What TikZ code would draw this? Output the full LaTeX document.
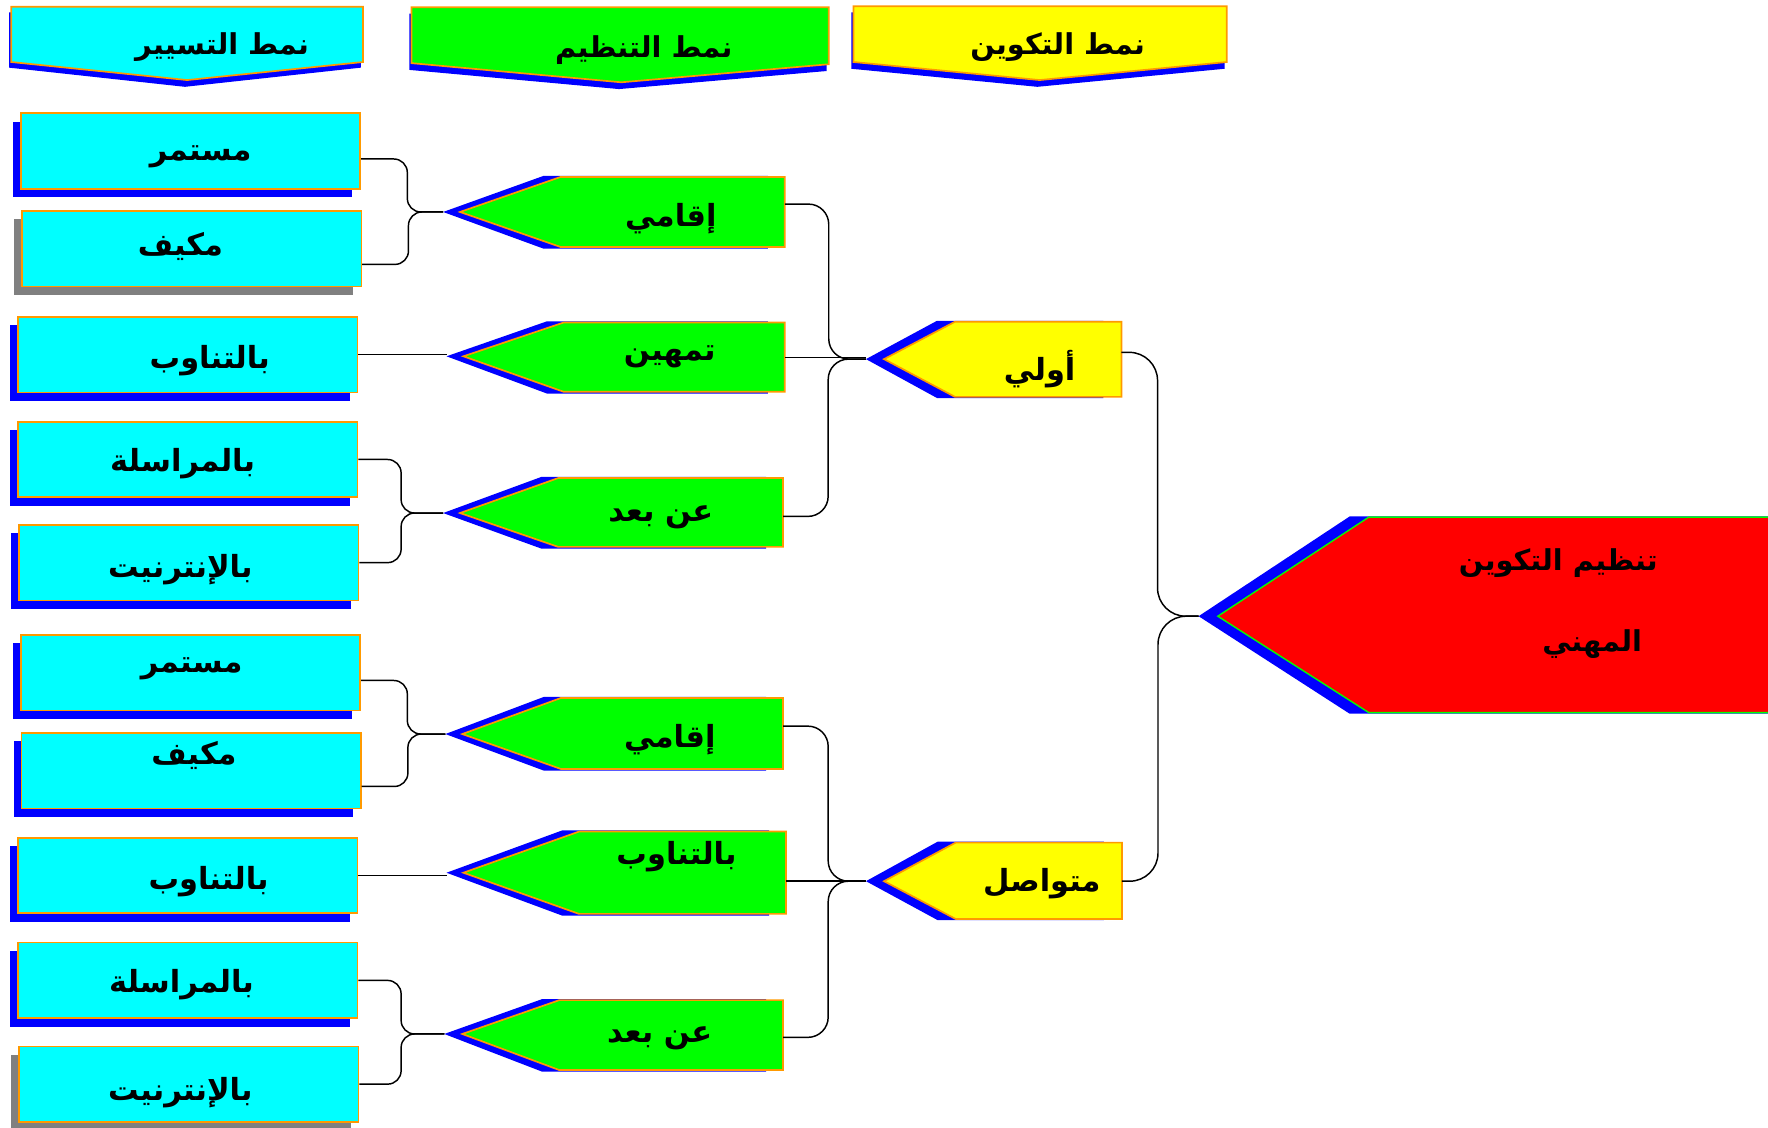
\documentclass[tikz,border=0pt]{standalone}
\usepackage{fontspec}
\usepackage{tikz}
\usetikzlibrary{shadows}
\newfontfamily\arabicfont[Script=Arabic]{DejaVu Sans}
\TeXXeTstate=1
\newcommand{\rtl}[1]{\beginR #1\endR}
\definecolor{cyanfill}{RGB}{0,255,255}
\definecolor{greenfill}{RGB}{0,255,0}
\definecolor{yellowfill}{RGB}{255,255,0}
\definecolor{redfill}{RGB}{255,0,0}
\definecolor{edge}{RGB}{255,153,0}
\definecolor{shade}{RGB}{0,0,255}
\definecolor{greyshade}{RGB}{128,128,128}
\tikzset{%
	cbox/.style = {name = #1, rectangle, draw = edge, fill = cyanfill, line width = 1.5pt, minimum width = 301pt, minimum height = 67pt, inner sep = 0pt},
	bshade/.style = {drop shadow = {shadow xshift = -7pt, shadow yshift = -7.5pt, fill = shade, opacity = 1}},
	gshade/.style = {drop shadow = {shadow xshift = -7pt, shadow yshift = -7.5pt, fill = greyshade, opacity = 1}},
	word/.style = {name = #1, font = \arabicfont\bfseries\fontsize{27}{31}\selectfont, inner sep = 0pt},
	head/.style = {word = #1, font = \arabicfont\bfseries\fontsize{25.5}{30}\selectfont},
	sign/.style = {draw = edge, line width = 1.5pt},
	back/.style = {fill = shade},
	link/.style = {draw, line width = 1.3pt, rounded corners = 12pt}
}
\begin{document}
\begin{tikzpicture}[x=1pt, y=-1pt]
\useasboundingbox (0,0) rectangle (1568,1000);
% headers
\fill [back] (8,11) -- (320,11) -- (320,60) -- (164,77) -- (8,60) -- cycle;
\draw [sign, fill = cyanfill] (10,6) -- (322,6) -- (322,55) -- (166,71) -- (10,55) -- cycle;
\fill [back] (363,12) -- (733,12) -- (733,63) -- (549,79) -- (363,62) -- cycle;
\draw [sign, fill = greenfill] (365,6.5) -- (735,6.5) -- (735,57) -- (551,73) -- (365,56) -- cycle;
\fill [back] (755,11) -- (1086,11) -- (1086,61) -- (920,77) -- (755,61) -- cycle;
\draw [sign, fill = yellowfill] (757,5.5) -- (1088,5.5) -- (1088,55) -- (922,71) -- (757,55) -- cycle;
\node [head = {tasyir}] at (197,42) {\rtl{نمط التسيير}};
\node [head = {tanzimh}] at (571,44) {\rtl{نمط  التنظيم}};
\node [head = {takwinh}] at (938,42) {\rtl{نمط التكوين}};
% left column
\node [cbox = {mustamir1}, bshade] at (169,134) {};
\node [cbox = {makif1}, gshade] at (170,220.5) {};
\node [cbox = {bitanawub1}, bshade] at (166.5,314.5) {};
\node [cbox = {murasala1}, bshade] at (166.5,407.5) {};
\node [cbox = {internet1}, bshade] at (167.5,499) {};
\node [cbox = {mustamir2}, bshade] at (169,596.5) {};
\node [cbox = {makif2}, bshade] at (169.5,683.5) {};
\node [cbox = {bitanawub2}, bshade] at (166.5,776.5) {};
\node [cbox = {murasala2}, bshade] at (166.5,869.5) {};
\node [cbox = {internet2}, gshade] at (167.5,961.5) {};
\node [word = {mustamir1t}] at (178,139) {\rtl{مستمر}};
\node [word = {makif1t}] at (160,219) {\rtl{مكيف}};
\node [word = {bitanawub1t}] at (186,320) {\rtl{بالتناوب}};
\node [word = {murasala1t}] at (162,411) {\rtl{بالمراسلة}};
\node [word = {internet1t}] at (160,505) {\rtl{بالإنترنيت}};
\node [word = {mustamir2t}] at (170,593) {\rtl{مستمر}};
\node [word = {makif2t}] at (172,670) {\rtl{مكيف}};
\node [word = {bitanawub2t}] at (185,782) {\rtl{بالتناوب}};
\node [word = {murasala2t}] at (161,873) {\rtl{بالمراسلة}};
\node [word = {internet2t}] at (160,969) {\rtl{بالإنترنيت}};
% green signs
\fill [back] (393,188) -- (482,156) -- (681,156) -- (681,220.5) -- (482,220.5) -- cycle;
\draw [sign, fill = greenfill] (408,188) -- (497,157) -- (696,157) -- (696,219) -- (497,219) -- cycle;
\fill [back] (396,316) -- (485,285) -- (681,285) -- (681,349) -- (485,349) -- cycle;
\draw [sign, fill = greenfill] (411,316) -- (500,286) -- (696,286) -- (696,347.5) -- (500,347.5) -- cycle;
\fill [back] (393,455) -- (480,423) -- (679.5,423) -- (679.5,486.5) -- (480,486.5) -- cycle;
\draw [sign, fill = greenfill] (408,455) -- (495,424) -- (694.5,424) -- (694.5,485) -- (495,485) -- cycle;
\fill [back] (395,651) -- (482.5,618) -- (679.5,618) -- (679.5,683.5) -- (482.5,683.5) -- cycle;
\draw [sign, fill = greenfill] (410,651) -- (497.5,619) -- (694.5,619) -- (694.5,682) -- (497.5,682) -- cycle;
\fill [back] (396,774) -- (498.5,736.5) -- (682,736.5) -- (682,812) -- (498.5,812) -- cycle;
\draw [sign, fill = greenfill] (411,774) -- (513.5,737.5) -- (697,737.5) -- (697,810.5) -- (513.5,810.5) -- cycle;
\fill [back] (394,917) -- (481,886) -- (679.5,886) -- (679.5,950.5) -- (481,950.5) -- cycle;
\draw [sign, fill = greenfill] (410,917) -- (496,887) -- (694.5,887) -- (694.5,949) -- (496,949) -- cycle;
\coordinate (iqama1) at (393,188);
\coordinate (iqama1-r) at (696,188);
\coordinate (tamhin) at (396,316);
\coordinate (tamhin-r) at (696,317);
\coordinate (anbuad1) at (393,455);
\coordinate (anbuad1-r) at (694.5,455);
\coordinate (iqama2) at (395,651);
\coordinate (iqama2-r) at (694.5,651);
\coordinate (bitanawub2g) at (396,774);
\coordinate (bitanawub2g-r) at (697,774);
\coordinate (anbuad2) at (394,917);
\coordinate (anbuad2-r) at (694.5,917);
\node [word = {iqama1t}] at (595,194) {\rtl{إقامي}};
\node [word = {tamhint}] at (594,316) {\rtl{تمهين}};
\node [word = {anbuad1t}] at (586,459) {\rtl{عن بعد}};
\node [word = {iqama2t}] at (594,656) {\rtl{إقامي}};
\node [word = {bitanawub2gt}] at (600,760) {\rtl{بالتناوب}};
\node [word = {anbuad2t}] at (585,921) {\rtl{عن بعد}};
% yellow signs
\fill [back] (768,318.5) -- (831,284.5) -- (978.6,284.5) -- (978.6,353) -- (831,353) -- cycle;
\draw [sign, fill = yellowfill] (784,318.5) -- (847,285.3) -- (994.6,285.3) -- (994.6,352) -- (847,352) -- cycle;
\fill [back] (768,781.5) -- (831.5,746.5) -- (979,746.5) -- (979,816) -- (831.5,816) -- cycle;
\draw [sign, fill = yellowfill] (784,781.5) -- (847.5,747.3) -- (995,747.3) -- (995,815) -- (847.5,815) -- cycle;
\coordinate (awwali) at (768,318.5);
\coordinate (awwali-r) at (994.6,318.5);
\coordinate (mutawasil) at (768,781.5);
\coordinate (mutawasil-r) at (995,781.5);
\node [word = {awwalit}] at (922,327) {\rtl{أولي}};
\node [word = {mutawasilt}] at (924,784) {\rtl{متواصل}};
% red sign
\fill [back] (1063,546.5) -- (1197,458) -- (1580,458) -- (1580,633) -- (1197,633) -- cycle;
\draw [draw = greenfill, line width = 1.2pt, fill = redfill] (1080,546.5) -- (1214,458.6) -- (1580,458.6) -- (1580,632) -- (1214,632) -- cycle;
\coordinate (tanzim) at (1063,546.5);
\node [head = {tanzimt}] at (1382,499) {\rtl{تنظيم التكوين}};
\node [head = {mihnit}] at (1412,571) {\rtl{المهني}};
% connectors
\draw [link] ([yshift=-7pt]mustamir1.east) -- ++(41,0) |- (iqama1);
\draw [link] ([yshift=-14pt]makif1.east) -- ++(41,0) |- (iqama1);
\draw [link] (bitanawub1.east) -- (bitanawub1.east -| tamhin);
\draw [link] (murasala1.east) -- ++(38,0) |- (anbuad1);
\draw [link] (internet1.east) -- ++(37,0) |- (anbuad1);
\draw [link] ([yshift=-7pt]mustamir2.east) -- ++(41,0) |- (iqama2);
\draw [link] ([yshift=-14pt]makif2.east) -- ++(41,0) |- (iqama2);
\draw [link] (bitanawub2.east) -- (bitanawub2.east -| bitanawub2g);
\draw [link] (murasala2.east) -- ++(38,0) |- (anbuad2);
\draw [link] (internet2.east) -- ++(37,0) |- (anbuad2);
\draw [link, rounded corners = 18pt] ([yshift=7pt]iqama1-r) -- ++(39,0) |- (awwali);
\draw [link] (tamhin-r) -- (tamhin-r -| awwali);
\draw [link, rounded corners = 18pt] ([yshift=-3pt]anbuad1-r) -- ++(40,0) |- (awwali);
\draw [link, rounded corners = 18pt] ([yshift=7pt]iqama2-r) -- ++(40,0) |- (mutawasil);
\draw [link] (bitanawub2g-r |- mutawasil) -- (mutawasil);
\draw [link, rounded corners = 18pt] ([yshift=-3pt]anbuad2-r) -- ++(40,0) |- (mutawasil);
\draw [link, rounded corners = 25pt] ([yshift=6pt]awwali-r) -- ++(32,0) |- (tanzim);
\draw [link, rounded corners = 25pt] (mutawasil-r) -- ++(32,0) |- (tanzim);
\end{tikzpicture}
\end{document}
